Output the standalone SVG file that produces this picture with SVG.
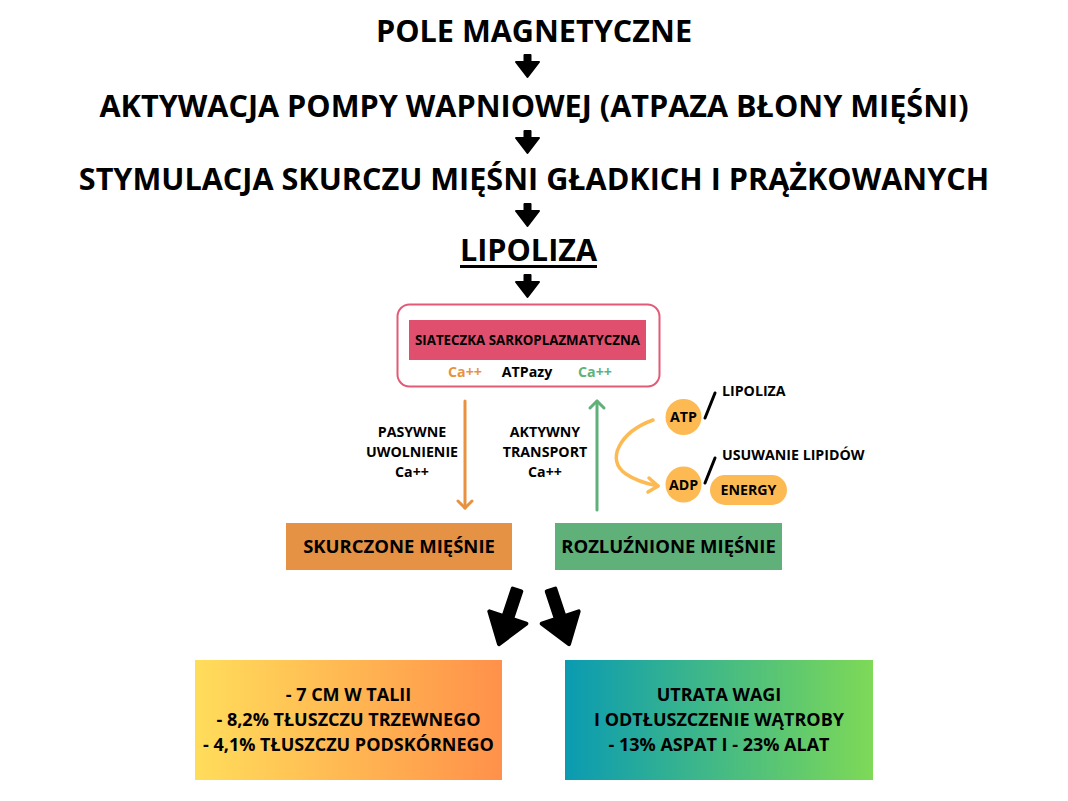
<svg xmlns="http://www.w3.org/2000/svg" width="1068" height="801" viewBox="0 0 1068 801">
<defs>
<style>
text{font-family:"Open Sans","Noto Sans","DejaVu Sans",sans-serif;font-weight:700;fill:#000;text-anchor:middle}
.title{font-size:30.6px}
.sm{font-size:14.2px}
.md{font-size:18.5px}
.bx{font-size:18px}
.down{fill:#000;stroke:#000;stroke-width:2;stroke-linejoin:round}
.big{fill:#000;stroke:#000;stroke-width:4;stroke-linejoin:round}
</style>
<linearGradient id="gY" x1="0" y1="0" x2="1" y2="0">
<stop offset="0" stop-color="#ffdd5b"/><stop offset="1" stop-color="#ff914a"/>
</linearGradient>
<linearGradient id="gG" x1="0" y1="0" x2="1" y2="0">
<stop offset="0" stop-color="#0a9bb2"/><stop offset="1" stop-color="#7ed957"/>
</linearGradient>
</defs>
<rect width="1068" height="801" fill="#fff"/>

<g id="t1"><text class="title" x="534" y="42">POLE MAGNETYCZNE</text></g>
<g id="t2"><text class="title" x="534" y="117">AKTYWACJA POMPY WAPNIOWEJ (ATPAZA BŁONY MIĘŚNI)</text></g>
<g id="t3"><text class="title" x="534" y="190">STYMULACJA SKURCZU MIĘŚNI GŁADKICH I PRĄŻKOWANYCH</text></g>
<g id="t4"><text class="title" x="528.5" y="261">LIPOLIZA</text><rect x="460" y="265" width="137" height="3" fill="#000"/></g>

<g id="sr">
<rect x="397.5" y="304.5" width="262" height="82" rx="12" fill="#fff" stroke="#e35a77" stroke-width="2"/>
<rect x="409" y="320" width="237" height="40" fill="#e0506e"/>
<text x="527.5" y="345" style="font-size:13.3px">SIATECZKA SARKOPLAZMATYCZNA</text>
<text class="sm" x="465" y="377" style="fill:#e8923f">Ca++</text>
<text class="sm" x="527" y="377">ATPazy</text>
<text class="sm" x="595" y="377" style="fill:#5db37a">Ca++</text>
</g>

<g id="lbl1"><text class="sm" x="412" y="437">PASYWNE</text><text class="sm" x="412" y="457">UWOLNIENIE</text><text class="sm" x="412" y="477">Ca++</text></g>
<g id="lbl2"><text class="sm" x="545" y="437">AKTYWNY</text><text class="sm" x="545" y="457">TRANSPORT</text><text class="sm" x="545" y="477">Ca++</text></g>

<g id="atp"><circle cx="683.5" cy="417" r="18" fill="#fdba52"/><text class="sm" x="683.5" y="422">ATP</text></g>
<g id="adp"><circle cx="683.5" cy="484.5" r="18" fill="#fdba52"/><text class="sm" x="683.5" y="489.5">ADP</text></g>
<g id="energy"><rect x="710" y="475" width="77" height="30" rx="15" fill="#fdba52"/><text class="sm" x="748.5" y="495">ENERGY</text></g>
<g id="lip2"><text class="sm" x="722" y="396" style="text-anchor:start">LIPOLIZA</text></g>
<g id="usuw"><text class="sm" x="722" y="460" style="text-anchor:start">USUWANIE LIPIDÓW</text></g>

<g id="skurcz"><rect x="286" y="523" width="226" height="47" fill="#e69245"/><text class="md" x="399" y="553">SKURCZONE MIĘŚNIE</text></g>
<g id="rozl"><rect x="555" y="523" width="227" height="47" fill="#5fb079"/><text class="md" x="668.5" y="553">ROZLUŹNIONE MIĘŚNIE</text></g>

<g id="res1"><rect x="195" y="660" width="307" height="120" fill="url(#gY)"/>
<text class="bx" x="348.5" y="700.5">- 7 CM W TALII</text>
<text class="bx" x="348.5" y="726">- 8,2% TŁUSZCZU TRZEWNEGO</text>
<text class="bx" x="348.5" y="751">- 4,1% TŁUSZCZU PODSKÓRNEGO</text></g>
<g id="res2"><rect x="565" y="660" width="308" height="120" fill="url(#gG)"/>
<text class="bx" x="719" y="700.5">UTRATA WAGI</text>
<text class="bx" x="719" y="726">I ODTŁUSZCZENIE WĄTROBY</text>
<text class="bx" x="719" y="751">- 13% ASPAT I - 23% ALAT</text></g>

<g id="connectors">
<polygon class="down" points="524.5,55 530.5,55 530.5,62 539,62 527.5,77 516,62 524.5,62"/>
<polygon class="down" points="524.5,131 530.5,131 530.5,138 539,138 527.5,153 516,138 524.5,138"/>
<polygon class="down" points="524.5,204 530.5,204 530.5,211 539,211 527.5,226 516,211 524.5,211"/>
<polygon class="down" points="524.5,275 530.5,275 530.5,282 539,282 527.5,297 516,282 524.5,282"/>

<g fill="none" stroke="#e8923f" stroke-width="3" stroke-linecap="round" stroke-linejoin="round">
<line x1="465" y1="401" x2="465" y2="508"/>
<polyline points="458,501 465,508 472,501"/>
</g>
<g fill="none" stroke="#5fb079" stroke-width="3" stroke-linecap="round" stroke-linejoin="round">
<line x1="597" y1="510" x2="597" y2="401"/>
<polyline points="590,408 597,401 604,408"/>
</g>
<g fill="none" stroke="#fdba52" stroke-width="3.5" stroke-linecap="round" stroke-linejoin="round">
<path d="M653,420 C620,432 605,460 626,474 C636,481 648,484 658,486"/>
<polyline points="649,478 658,486 648,492"/>
</g>
<g stroke="#000" stroke-width="3" stroke-linecap="round">
<line x1="705" y1="418" x2="715" y2="393"/>
<line x1="705" y1="483" x2="715" y2="458"/>
</g>

<polygon class="big" transform="translate(517,590) rotate(18.4)" points="-4.5,0 4.5,0 4.5,29 19.5,29 0,57 -19.5,29 -4.5,29"/>
<polygon class="big" transform="translate(551,590) rotate(-18.4)" points="-4.5,0 4.5,0 4.5,29 19.5,29 0,57 -19.5,29 -4.5,29"/>
</g>
</svg>
